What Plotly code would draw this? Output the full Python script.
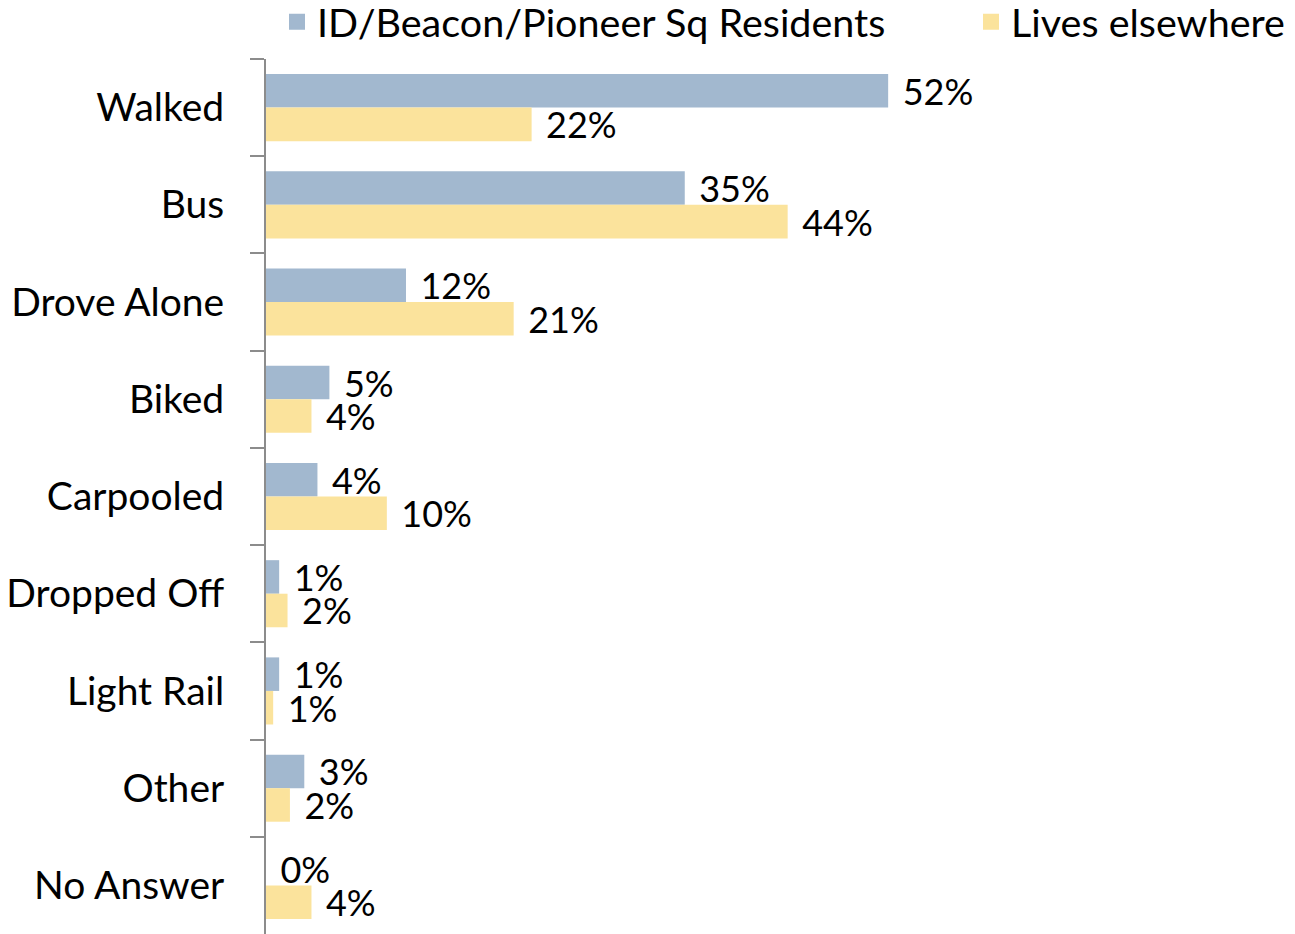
import plotly.graph_objects as go

categories = ["Walked", "Bus", "Drove Alone", "Biked", "Carpooled",
              "Dropped Off", "Light Rail", "Other", "No Answer"]
residents = [0.52, 0.35, 0.117, 0.053, 0.043, 0.011, 0.011, 0.032, 0.0]
elsewhere = [0.222, 0.436, 0.207, 0.038, 0.101, 0.018, 0.006, 0.020, 0.038]
series_names = ["ID/Beacon/Pioneer Sq Residents", "Lives elsewhere"]
colors = ["#A2B8CF", "#FBE39C"]

FONT = "Lato"
FS = 39
VFS = 36

fig = go.Figure()
for name, vals, col in zip(series_names, [residents, elsewhere], colors):
    fig.add_trace(go.Bar(
        y=categories, x=vals, name=name, orientation="h",
        marker=dict(color=col, line=dict(width=0)),
        texttemplate="\u00a0\u200a%{x:.0%}", textposition="outside",
        constraintext="none", cliponaxis=False,
        textfont=dict(family=FONT, size=VFS, color="black"),
        showlegend=False, hoverinfo="skip",
    ))

# legend entries with larger square swatches
for i, (name, col) in enumerate(zip(series_names, colors)):
    fig.add_trace(go.Scatter(
        x=[None], y=[None], mode="markers", name=name,
        marker=dict(symbol="square", size=16, color=col, line=dict(width=0)),
        legend="legend" if i == 0 else "legend2",
    ))

legend_common = dict(orientation="h", xref="container", yref="container",
                     xanchor="left", yanchor="middle", y=(934 - 22) / 934,
                     font=dict(family=FONT, size=FS + 0.5, color="black"),
                     bgcolor="rgba(0,0,0,0)", borderwidth=0)

fig.update_layout(
    width=1295, height=934,
    margin=dict(l=266, r=12, t=59, b=0, autoexpand=False),
    barmode="group", bargap=0.31, bargroupgap=0,
    plot_bgcolor="white", paper_bgcolor="white",
    font=dict(family=FONT, size=FS, color="black"),
    showlegend=True,
    legend=dict(x=277/1295, **legend_common),
    legend2=dict(x=971/1295, **legend_common),
    xaxis=dict(range=[0, 0.85], visible=False),
    yaxis=dict(autorange="reversed", type="category",
               showline=True, linecolor="#8C8C8C", linewidth=2,
               ticks="outside", ticklen=14, tickwidth=1.5, tickcolor="#8C8C8C",
               tickson="boundaries", showgrid=False, zeroline=False,
               ticklabelstandoff=32),
)

fig.write_html("out.html", config={"displayModeBar": False},
               post_script="document.body.style.margin='0';document.body.style.overflow='hidden';")
